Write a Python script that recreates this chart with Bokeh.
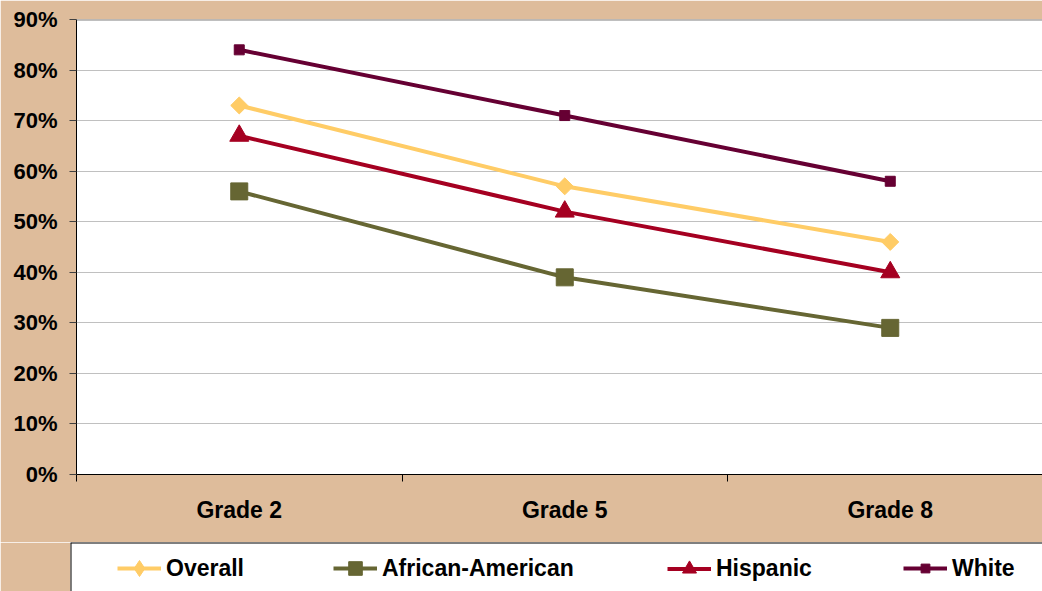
import math
from bokeh.plotting import figure
from bokeh.layouts import column
from bokeh.models import Range1d, FixedTicker, Legend, LegendItem, PrintfTickFormatter, Span
from bokeh.embed import file_html
from bokeh.resources import INLINE

grades = ["Grade 2", "Grade 5", "Grade 8"]
overall = [73, 57, 46]
african_american = [56, 39, 29]
hispanic = [67, 52, 40]
white = [84, 71, 58]
y_ticks = [0, 10, 20, 30, 40, 50, 60, 70, 80, 90]

TAN = "#DEBC9B"
FONT = "Liberation Sans"

xs = [i + 0.5 for i in range(len(grades))]
bounds = list(range(len(grades) + 1))

p = figure(width=1042, height=542, output_backend="svg", toolbar_location=None,
           x_range=Range1d(0, 966 / 325.5), y_range=Range1d(y_ticks[0], y_ticks[-1]),
           min_border_left=76, min_border_right=0, min_border_top=19, min_border_bottom=68,
           background_fill_color="white", border_fill_color=TAN, outline_line_color=None)

# axes
p.yaxis.ticker = FixedTicker(ticks=y_ticks)
p.yaxis.formatter = PrintfTickFormatter(format="%d%%")
p.yaxis.major_tick_out = 7
p.yaxis.major_tick_in = 0
p.yaxis.minor_tick_line_color = None
p.yaxis.axis_line_color = "black"
p.yaxis.major_tick_line_color = "#404040"
p.yaxis.major_label_text_font = FONT
p.yaxis.major_label_text_font_style = "bold"
p.yaxis.major_label_text_font_size = "22px"
p.yaxis.major_label_text_color = "black"
p.yaxis.major_label_standoff = 12

p.xaxis.ticker = FixedTicker(ticks=xs, minor_ticks=bounds)
p.xaxis.major_label_overrides = {x: g for x, g in zip(xs, grades)}
p.xaxis.major_tick_out = 0
p.xaxis.major_tick_in = 0
p.xaxis.minor_tick_out = 7
p.xaxis.minor_tick_in = 0
p.xaxis.minor_tick_line_color = "black"
p.xaxis.axis_line_color = "black"
p.xaxis.major_label_text_font = FONT
p.xaxis.major_label_text_font_style = "bold"
p.xaxis.major_label_text_font_size = "23px"
p.xaxis.major_label_text_color = "black"
p.xaxis.major_label_standoff = 15

p.xgrid.grid_line_color = None
p.ygrid.grid_line_color = "#C0C0C0"
p.ygrid.grid_line_width = 1

p.add_layout(Span(location=y_ticks[-1], dimension="width", line_color="#808080", line_width=2))

# (label, values, colour, chart marker, chart size, chart angle, legend marker, legend glyph height, legend x)
series = [
    ("Overall", overall, "#FFCC66", "square", 12, math.pi / 4, "diamond", 40, 47),
    ("African-American", african_american, "#666633", "square", 17, 0, "square", 34, 263),
    ("Hispanic", hispanic, "#A50021", "triangle", 19, 0, "triangle", 35, 597),
    ("White", white, "#660033", "square", 10, 0, "square", 22, 833),
]

# legend strip below the chart
q = figure(width=1042, height=49, output_backend="svg", toolbar_location=None,
           x_range=Range1d(0, 1), y_range=Range1d(0, 1),
           x_axis_location=None, y_axis_location=None,
           min_border_left=70, min_border_right=0, min_border_top=0, min_border_bottom=0,
           background_fill_color="white", border_fill_color=TAN, outline_line_color=None)
q.grid.grid_line_color = None
q.add_layout(Span(location=q.y_range.end, dimension="width", line_color="black", line_width=2))
q.add_layout(Span(location=q.x_range.start, dimension="height", line_color="black", line_width=2))

for fig in (p, q):
    if "frame_align" in fig.properties():
        fig.frame_align = False

for name, vals, color, marker, size, angle, lmarker, gh, lx in series:
    p.line(xs, vals, line_color=color, line_width=4)
    p.scatter(xs, vals, marker=marker, size=size, angle=angle,
              fill_color=color, line_color=color)
    # legend proxies (their data lie outside the strip's range)
    ln = q.line(xs, vals, line_color=color, line_width=4)
    sc = q.scatter(xs, vals, marker=lmarker, size=size,
                   fill_color=color, line_color=color)
    lg = Legend(items=[LegendItem(label=name, renderers=[ln, sc])],
                orientation="horizontal", location=(lx, 3), margin=0,
                padding=0, glyph_width=44, glyph_height=gh, label_height=40, label_standoff=5,
                label_text_font=FONT, label_text_font_style="bold", label_text_font_size="23px",
                label_text_color="black",
                border_line_color=None, background_fill_alpha=0.0)
    q.add_layout(lg)

layout = column(p, q, spacing=0)
open("out.html", "w").write(file_html(layout, INLINE))
